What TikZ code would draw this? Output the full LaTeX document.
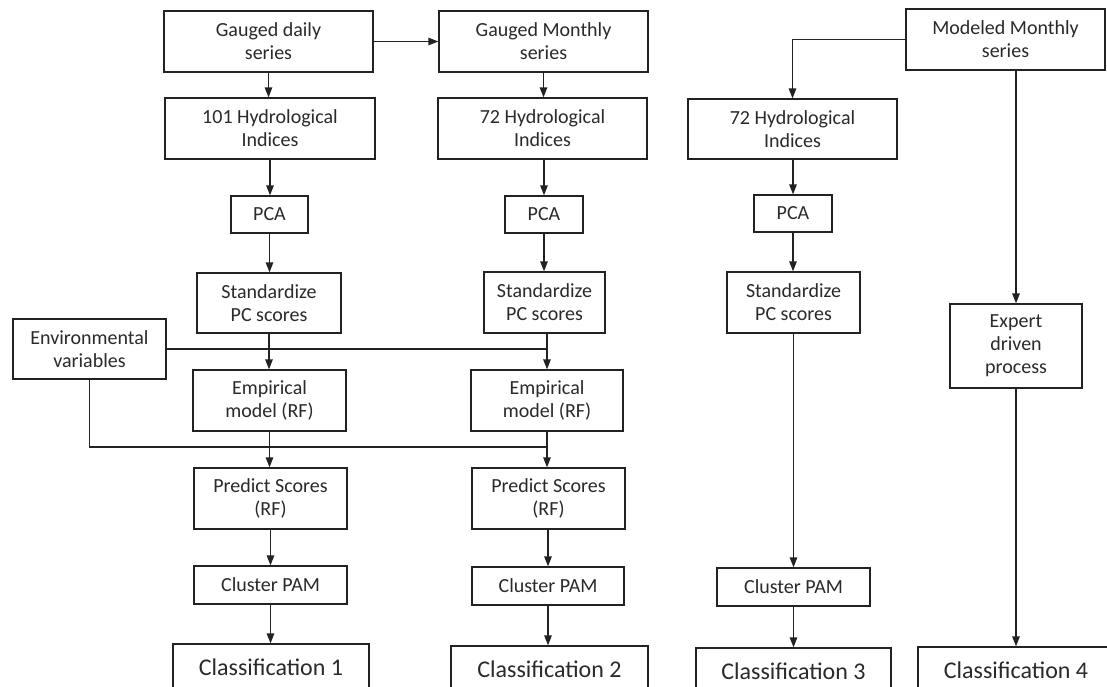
\documentclass[tikz,border=0pt]{standalone}
\usepackage{fontspec}
\setmainfont{Carlito}
\usetikzlibrary{arrows.meta}
\definecolor{ink}{HTML}{222222}
\definecolor{txt}{HTML}{2A2A2A}
\begin{document}
\begin{tikzpicture}[x=1pt,y=-1pt,
  box/.style={draw=ink,line width=1.3pt,inner sep=0pt,align=center,text=txt,
    font=\fontsize{20}{23}\selectfont},
  bigbox/.style={box,font=\fontsize{24}{27}\selectfont},
  arr/.style={draw=ink,line width=1.3pt,-{Triangle[length=10pt,width=7.5pt]}},
  ln/.style={draw=ink,line width=1.3pt}]
\clip (0,0) rectangle (1107,686);
\fill[white] (0,0) rectangle (1107,686);

% column 1: gauged daily
\node[box,minimum width=209,minimum height=61] (gd)  at (268.5,41.5) {Gauged daily\\series};
\node[box,minimum width=210,minimum height=61] (hi1) at (270,128.5) {101 Hydrological\\Indices};
\node[box,minimum width=77,minimum height=37]  (pca1) at (269.5,214.5) {PCA};
\node[box,minimum width=144,minimum height=60] (st1) at (269,303) {Standardize\\PC scores};
\node[box,minimum width=153,minimum height=61] (em1) at (269.5,400.5) {Empirical\\model (RF)};
\node[box,minimum width=153,minimum height=61] (pr1) at (270.5,498.5) {Predict Scores\\(RF)};
\node[box,minimum width=153,minimum height=38] (cl1) at (270.5,585) {Cluster PAM};
\node[bigbox,minimum width=196,minimum height=46] (c1) at (271,667) {Classification 1};

% column 2: gauged monthly
\node[box,minimum width=209,minimum height=61] (gm)  at (543.5,41.5) {Gauged Monthly\\series};
\node[box,minimum width=209,minimum height=61] (hi2) at (542.5,128.5) {72 Hydrological\\Indices};
\node[box,minimum width=78,minimum height=37]  (pca2) at (544,214.5) {PCA};
\node[box,minimum width=121,minimum height=61] (st2) at (544.5,302.5) {Standardize\\PC scores};
\node[box,minimum width=152,minimum height=61] (em2) at (547,400.5) {Empirical\\model (RF)};
\node[box,minimum width=153,minimum height=61] (pr2) at (548.5,498.5) {Predict Scores\\(RF)};
\node[box,minimum width=152,minimum height=38] (cl2) at (548,586) {Cluster PAM};
\node[bigbox,minimum width=197,minimum height=46] (c2) at (549.5,669) {Classification 2};

% environmental variables
\node[box,minimum width=153,minimum height=60] (env) at (89.5,349) {Environmental\\variables};

% column 3: modeled monthly, statistical path
\node[box,minimum width=199,minimum height=61] (mm)  at (1005.5,39.5) {Modeled Monthly\\series};
\node[box,minimum width=209,minimum height=60] (hi3) at (792.5,129) {72 Hydrological\\Indices};
\node[box,minimum width=78,minimum height=37]  (pca3) at (793,213.5) {PCA};
\node[box,minimum width=133,minimum height=61] (st3) at (793.5,302.5) {Standardize\\PC scores};
\node[box,minimum width=153,minimum height=38] (cl3) at (793.5,587) {Cluster PAM};
\node[bigbox,minimum width=195,minimum height=46] (c3) at (793.5,671) {Classification 3};

% column 4: expert path
\node[box,minimum width=132,minimum height=84] (ex) at (1016,346) {Expert\\driven\\process};
\node[bigbox,minimum width=196,minimum height=46] (c4) at (1016,670) {Classification 4};

% connectors
\draw[arr] (gd.east) -- (gm.west);
\draw[arr] (gd.south) -- (gd.south |- hi1.north);
\draw[arr] (hi1.south) -- (hi1.south |- pca1.north);
\draw[arr] (pca1.south) -- (pca1.south |- st1.north);
\draw[arr] (st1.south) -- (st1.south |- em1.north);
\draw[arr] (em1.south) -- (em1.south |- pr1.north);
\draw[arr] (pr1.south) -- (pr1.south |- cl1.north);
\draw[arr] (cl1.south) -- (cl1.south |- c1.north);

\draw[arr] (gm.south) -- (gm.south |- hi2.north);
\draw[arr] (hi2.south -| pca2.north) -- (pca2.north);
\draw[arr] (pca2.south) -- (pca2.south |- st2.north);
\draw[arr] (st2.south -| em2.north) -- (em2.north);
\draw[arr] (em2.south) -- (em2.south |- pr2.north);
\draw[arr] (pr2.south -| cl2.north) -- (cl2.north);
\draw[arr] (cl2.south) -- (cl2.south |- c2.north);

\coordinate (j2) at (547,447);
\draw[ln] (env.east) -- (env.east -| em2.north);
\draw[ln] (env.south) |- (j2);

\draw[arr] (mm.west) -| (hi3.north);
\draw[arr] (hi3.south -| pca3.north) -- (pca3.north);
\draw[arr] (pca3.south) -- (pca3.south |- st3.north);
\draw[arr] (st3.south) -- (st3.south |- cl3.north);
\draw[arr] (cl3.south) -- (cl3.south |- c3.north);

\draw[arr] (ex.north |- mm.south) -- (ex.north);
\draw[arr] (ex.south) -- (ex.south |- c4.north);
\end{tikzpicture}
\end{document}
